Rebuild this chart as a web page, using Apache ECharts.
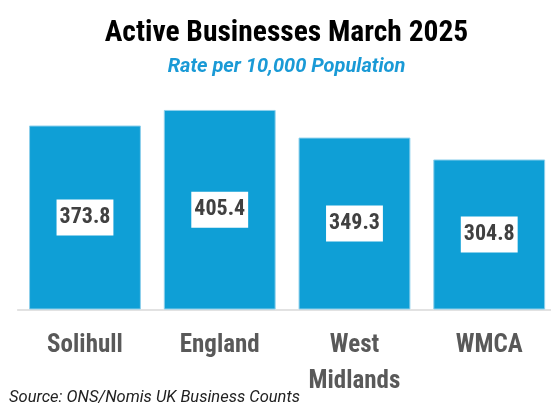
<!DOCTYPE html>
<html><head><meta charset="utf-8">
<script src="https://cdn.jsdelivr.net/npm/echarts@6/dist/echarts.min.js"></script>
<style>html,body{margin:0;padding:0;background:#fff;overflow:hidden}#c{width:560px;height:405px}</style>
</head><body><div id="c"></div>
<script>
const categories = ['Solihull', 'England', 'West\nMidlands', 'WMCA'];
const values = [373.8, 405.4, 349.3, 304.8];
const titleText = 'Active Businesses March 2025';
const subtitleText = 'Rate per 10,000 Population';
const sourceText = 'Source: ONS/Nomis UK Business Counts';

const COND = "'Roboto Condensed', Roboto, sans-serif";
const ROBO = "Roboto, sans-serif";
const chart = echarts.init(document.getElementById('c'), null, {renderer:'canvas'});
chart.setOption({
  animation:false,
  grid:{left:17.6, top:88, width:539, height:221.5, containLabel:false},
  xAxis:{type:'category', data:categories,
    axisLine:{lineStyle:{color:'#d9d9d9', width:1.5}}, axisTick:{show:false},
    axisLabel:{color:'#595959', fontWeight:'bold', fontSize:25, fontFamily:COND, lineHeight:36, margin:18, interval:0}},
  yAxis:{type:'value', min:0, max:450, show:false, splitLine:{show:false}},
  series:[{type:'bar', data:values, barCategoryGap:'17%',
    itemStyle:{color:'#0f9fd6', borderColor:'#8fd0ec', borderWidth:1},
    label:{show:true, position:'inside', color:'#404040', fontWeight:'bold', fontSize:22, lineHeight:22, fontFamily:COND,
      backgroundColor:'#fff', padding:[7,3,7,3], formatter:p=>p.value.toFixed(1)}}],
  graphic:[
    {type:'text', x:286.5, y:19, style:{text:titleText, font:"bold 29.5px "+COND, fill:'#000', align:'center', verticalAlign:'top'}},
    {type:'text', x:286.5, y:57, style:{text:subtitleText, font:"italic bold 20px "+ROBO, fill:'#1a9ad6', align:'center', verticalAlign:'top'}},
    {type:'text', x:9, y:389, style:{text:sourceText, font:"italic 16.5px "+ROBO, fill:'#222', align:'left', verticalAlign:'top'}}
  ]
});
</script></body></html>
